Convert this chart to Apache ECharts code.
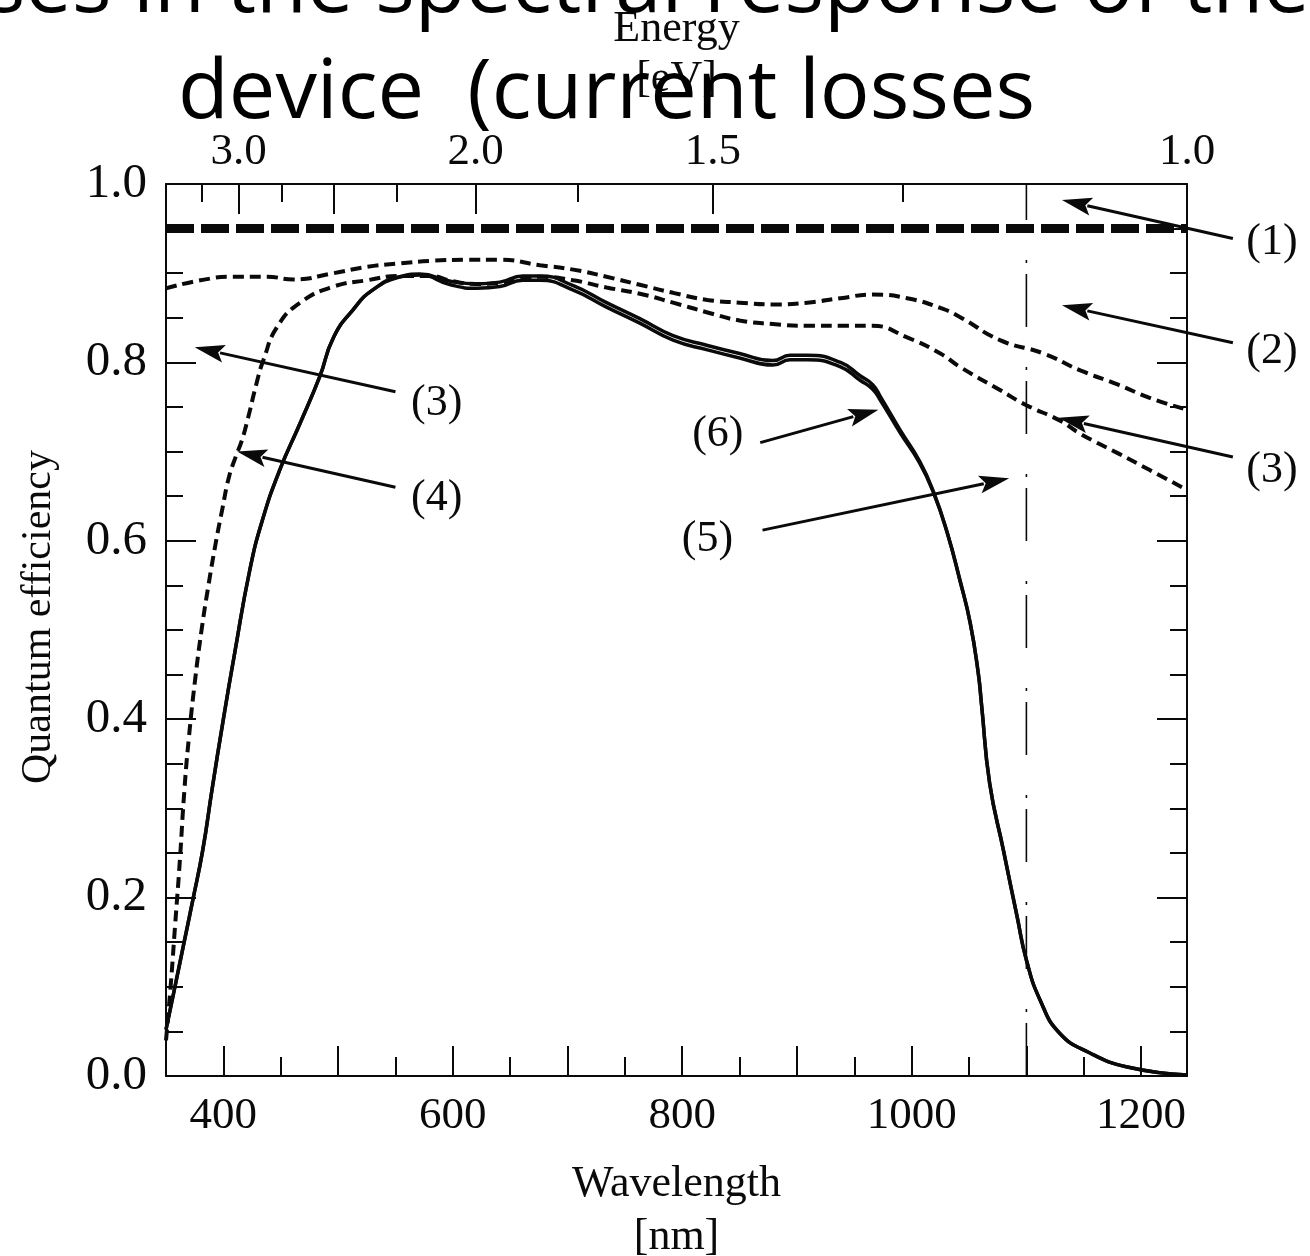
<!DOCTYPE html>
<html>
<head>
<meta charset="utf-8">
<script src="https://cdn.jsdelivr.net/npm/echarts@6/dist/echarts.min.js"></script>
<style>
  html, body { margin: 0; padding: 0; background: #fff; }
  #chart { width: 1310px; height: 1256px; }
</style>
</head>
<body>
<div id="chart"></div>
<script>
// ---- axes -------------------------------------------------------------
const wlRange = [350, 1240];                                   // nm
const wlMajorTicks = [400, 500, 600, 700, 800, 900, 1000, 1100, 1200];
const wlMinorTicks = [450, 550, 650, 750, 850, 950, 1050, 1150];
const wlLabels = [400, 600, 800, 1000, 1200];
const eMajorTicks = [3.0, 2.5, 2.0, 1.5];                      // eV
const eMinorTicks = [3.25, 2.75, 2.25, 1.75, 1.25];
const eLabels = [3.0, 2.0, 1.5, 1.0];
const HC = 1240;                                               // eV*nm

// ---- curves (wavelength in nm, quantum efficiency) ---------------------
// (1) upper bound after optical losses
const wl1 = [350, 1240];
const qe1 = [0.95, 0.95];

// upper dashed curve
const wl2 = [350, 380, 408, 438, 461, 496, 525, 554, 583, 612, 641, 676, 705, 734, 763,
             792, 822, 850, 879, 909, 938, 966, 996, 1025, 1042, 1077, 1115, 1147, 1180, 1208, 1240];
const qe2 = [0.883, 0.892, 0.896, 0.896, 0.893, 0.900, 0.907, 0.911, 0.914, 0.915, 0.915, 0.909, 0.904, 0.896, 0.887,
             0.878, 0.870, 0.867, 0.865, 0.867, 0.872, 0.876, 0.872, 0.861, 0.851, 0.825, 0.810, 0.791, 0.775, 0.760, 0.747];

// lower dashed curve
const wl3 = [350, 354, 358, 362, 366, 370, 375, 381, 387, 393, 399, 405, 411, 416, 421, 429,
             435, 447, 467, 496, 525, 554, 580, 600, 620, 640, 660, 676, 705, 734, 763, 792,
             822, 850, 879, 909, 938, 966, 996, 1025, 1042, 1077, 1100, 1129, 1147, 1180, 1208, 1240];
const qe3 = [0.04, 0.10, 0.17, 0.24, 0.32, 0.38, 0.44, 0.50, 0.55, 0.595, 0.635, 0.672, 0.695, 0.712, 0.735, 0.777,
             0.803, 0.840, 0.867, 0.885, 0.892, 0.897, 0.897, 0.891, 0.888, 0.889, 0.894, 0.896, 0.892, 0.884, 0.877, 0.867,
             0.856, 0.847, 0.843, 0.841, 0.841, 0.841, 0.828, 0.810, 0.795, 0.769, 0.752, 0.735, 0.720, 0.698, 0.679, 0.657];

// solid curves (5) and (6)
const wl5 = [350, 357, 365, 373, 382, 390, 400, 410, 423, 434, 449, 467, 484, 496, 513,
             530, 554, 571, 598, 621, 641, 661, 676, 705, 734, 763, 792, 822, 850, 879,
             894, 909, 938, 955, 966, 973, 990, 1007, 1019, 1031, 1042, 1051, 1058, 1061, 1068,
             1080, 1092, 1100, 1112, 1129, 1155, 1188, 1240];
const qe5 = [0.052, 0.095, 0.145, 0.195, 0.253, 0.32, 0.40, 0.475, 0.567, 0.623, 0.679, 0.732, 0.784, 0.828, 0.859,
             0.881, 0.896, 0.898, 0.887, 0.883, 0.885, 0.892, 0.892, 0.881, 0.862, 0.844, 0.825, 0.814, 0.805, 0.797,
             0.803, 0.803, 0.795, 0.780, 0.770, 0.757, 0.721, 0.687, 0.654, 0.609, 0.556, 0.508, 0.452, 0.415, 0.328,
             0.253, 0.178, 0.130, 0.085, 0.048, 0.026, 0.010, 0.001];
const wl6 = wl5;
const qe6 = [0.052, 0.095, 0.145, 0.195, 0.253, 0.32, 0.40, 0.475, 0.567, 0.623, 0.679, 0.732, 0.784, 0.828, 0.859,
             0.881, 0.896, 0.899, 0.891, 0.888, 0.890, 0.897, 0.897, 0.886, 0.867, 0.849, 0.830, 0.819, 0.810, 0.802,
             0.808, 0.808, 0.800, 0.785, 0.775, 0.761, 0.724, 0.689, 0.655, 0.609, 0.556, 0.508, 0.452, 0.415, 0.328,
             0.253, 0.178, 0.130, 0.085, 0.048, 0.026, 0.010, 0.001];

// band-gap marker
const gapWl = [1100, 1100];
const gapQe = [0, 1];

// ---- annotations: label, label position, arrow tail, arrow head ---------
const annoText  = ['(1)', '(2)', '(3)', '(3)', '(4)', '(5)', '(6)'];
const annoLabWl = [1314, 1314, 1314, 586, 586, 822, 831];
const annoLabQe = [0.935, 0.812, 0.679, 0.754, 0.648, 0.601, 0.719];
const annoFromWl = [1280, 1280, 1280, 550, 550, 870, 868];
const annoFromQe = [0.939, 0.822, 0.694, 0.767, 0.660, 0.612, 0.710];
const annoToWl = [1131, 1131, 1128, 375, 412, 1085, 971];
const annoToQe = [0.982, 0.864, 0.738, 0.817, 0.700, 0.670, 0.747];

// ---- helpers ------------------------------------------------------------
const pairs = (xs, ys) => xs.map((x, i) => [x, ys[i]]);
const SERIF = '"Liberation Serif", "Times New Roman", serif';
const INK = '#0a0a0a';
const axisLine = { show: true, lineStyle: { color: INK, width: 2 } };
const toWl = (e) => HC / e;

const chart = echarts.init(document.getElementById('chart'), null, { renderer: 'canvas' });

const hiddenLabel = { show: false };

chart.setOption({
  animation: false,
  backgroundColor: '#fff',
  grid: { left: 166, right: 123, top: 184, bottom: 180, containLabel: false, outerBoundsMode: 'none' },
  xAxis: [
    { // wavelength, bottom, major ticks + labels
      type: 'value', position: 'bottom', min: wlRange[0], max: wlRange[1],
      axisLine: axisLine,
      axisTick: { inside: true, length: 30, customValues: wlMajorTicks, lineStyle: { color: INK, width: 2 } },
      axisLabel: { customValues: wlLabels, margin: 18, color: INK, fontFamily: SERIF, fontSize: 45,
                   formatter: (v) => String(Math.round(v)) },
      splitLine: { show: false },
      name: 'Wavelength\n[nm]', nameLocation: 'middle', nameGap: 82,
      nameTextStyle: { color: INK, fontFamily: SERIF, fontSize: 44, lineHeight: 53 }
    },
    { // wavelength, bottom, minor ticks
      type: 'value', position: 'bottom', min: wlRange[0], max: wlRange[1],
      axisLine: { show: false },
      axisTick: { inside: true, length: 19, customValues: wlMinorTicks, lineStyle: { color: INK, width: 2 } },
      axisLabel: hiddenLabel, splitLine: { show: false }
    },
    { // photon energy, top, major ticks + labels
      type: 'value', position: 'top', min: wlRange[0], max: wlRange[1],
      axisLine: axisLine,
      axisTick: { inside: true, length: 30, customValues: eMajorTicks.map(toWl), lineStyle: { color: INK, width: 2 } },
      axisLabel: {
        customValues: eLabels.map(toWl), margin: 9, color: INK, fontFamily: SERIF, fontSize: 45,
        formatter: (v) => (HC / v).toFixed(1)
      },
      splitLine: { show: false },
      name: 'Energy\n[eV]', nameLocation: 'middle', nameGap: 80,
      nameTextStyle: { color: INK, fontFamily: SERIF, fontSize: 44, lineHeight: 50 }
    },
    { // photon energy, top, minor ticks
      type: 'value', position: 'top', min: wlRange[0], max: wlRange[1],
      axisLine: { show: false },
      axisTick: { inside: true, length: 18, customValues: eMinorTicks.map(toWl), lineStyle: { color: INK, width: 2 } },
      axisLabel: hiddenLabel, splitLine: { show: false }
    }
  ],
  yAxis: [
    {
      type: 'value', position: 'left', min: 0, max: 1, interval: 0.2,
      axisLine: axisLine,
      axisTick: { inside: true, length: 30, lineStyle: { color: INK, width: 2 } },
      minorTick: { show: true, splitNumber: 4, length: 17, lineStyle: { color: INK, width: 2 } },
      axisLabel: { margin: 19, color: INK, fontFamily: SERIF, fontSize: 49, formatter: (v) => v.toFixed(1) },
      splitLine: { show: false },
      name: 'Quantum efficiency', nameLocation: 'middle', nameGap: 106,
      nameTextStyle: { color: INK, fontFamily: SERIF, fontSize: 42, padding: [0, 0, 0, 26] }
    },
    {
      type: 'value', position: 'right', min: 0, max: 1, interval: 0.2,
      axisLine: axisLine,
      axisTick: { inside: true, length: 30, lineStyle: { color: INK, width: 2 } },
      minorTick: { show: true, splitNumber: 4, length: 17, lineStyle: { color: INK, width: 2 } },
      axisLabel: hiddenLabel, splitLine: { show: false }
    }
  ],
  graphic: [
    {
      type: 'text', x: -147, y: -12, z: 100,
      style: { text: 'Losses in the spectral response of the', font: '83px "Open Sans"', fill: '#000',
               textAlign: 'left', textVerticalAlign: 'middle' }
    },
    {
      type: 'text', x: 178, y: 94, z: 100,
      style: { text: 'device  (current losses', font: '83px "Open Sans"', fill: '#000',
               textAlign: 'left', textVerticalAlign: 'middle' }
    }
  ],
  series: [
    {
      name: '(1)', type: 'line', data: pairs(wl1, qe1), symbol: 'none',
      lineStyle: { color: INK, width: 9, type: [28, 7], cap: 'butt' }
    },
    {
      name: 'upper dashed', type: 'line', data: pairs(wl2, qe2), symbol: 'none', smooth: 0.5,
      lineStyle: { color: INK, width: 4, type: [11, 6] }
    },
    {
      name: 'lower dashed', type: 'line', data: pairs(wl3, qe3), symbol: 'none', smooth: 0.5,
      lineStyle: { color: INK, width: 4, type: [11, 6] }
    },
    {
      name: '(5)', type: 'line', data: pairs(wl5, qe5), symbol: 'none', smooth: 0.5,
      lineStyle: { color: INK, width: 3.5 }
    },
    {
      name: '(6)', type: 'line', data: pairs(wl6, qe6), symbol: 'none', smooth: 0.5,
      lineStyle: { color: INK, width: 3.5 }
    },
    {
      name: 'band gap', type: 'line', data: pairs(gapWl, gapQe), symbol: 'none',
      lineStyle: { color: INK, width: 1.6, type: [53, 11, 3, 40] }
    },
    {
      name: 'annotations', type: 'custom', clip: false, z: 10,
      encode: { x: [0, 2, 4], y: [1, 3, 5] },
      data: annoText.map((t, i) => [annoFromWl[i], annoFromQe[i], annoToWl[i], annoToQe[i], annoLabWl[i], annoLabQe[i]]),
      renderItem: (params, api) => {
        const i = params.dataIndex;
        const a = api.coord([api.value(0), api.value(1)]);
        const b = api.coord([api.value(2), api.value(3)]);
        const t = api.coord([api.value(4), api.value(5)]);
        const dx = b[0] - a[0], dy = b[1] - a[1];
        const len = Math.hypot(dx, dy);
        const ux = dx / len, uy = dy / len;
        const headLen = 30, headHalf = 9;
        const base = [b[0] - ux * headLen, b[1] - uy * headLen];
        return {
          type: 'group',
          children: [
            { type: 'line', shape: { x1: a[0], y1: a[1], x2: base[0] + ux * 4, y2: base[1] + uy * 4 },
              style: { stroke: INK, lineWidth: 3 } },
            { type: 'polygon',
              shape: { points: [b, [base[0] - uy * headHalf, base[1] + ux * headHalf],
                                   [base[0] + ux * 6, base[1] + uy * 6],
                                   [base[0] + uy * headHalf, base[1] - ux * headHalf]] },
              style: { fill: INK } },
            { type: 'text', x: t[0], y: t[1],
              style: { text: annoText[i], font: '44px ' + SERIF, fill: INK,
                       textAlign: 'center', textVerticalAlign: 'middle' } }
          ]
        };
      }
    }
  ]
});
</script>
</body>
</html>
